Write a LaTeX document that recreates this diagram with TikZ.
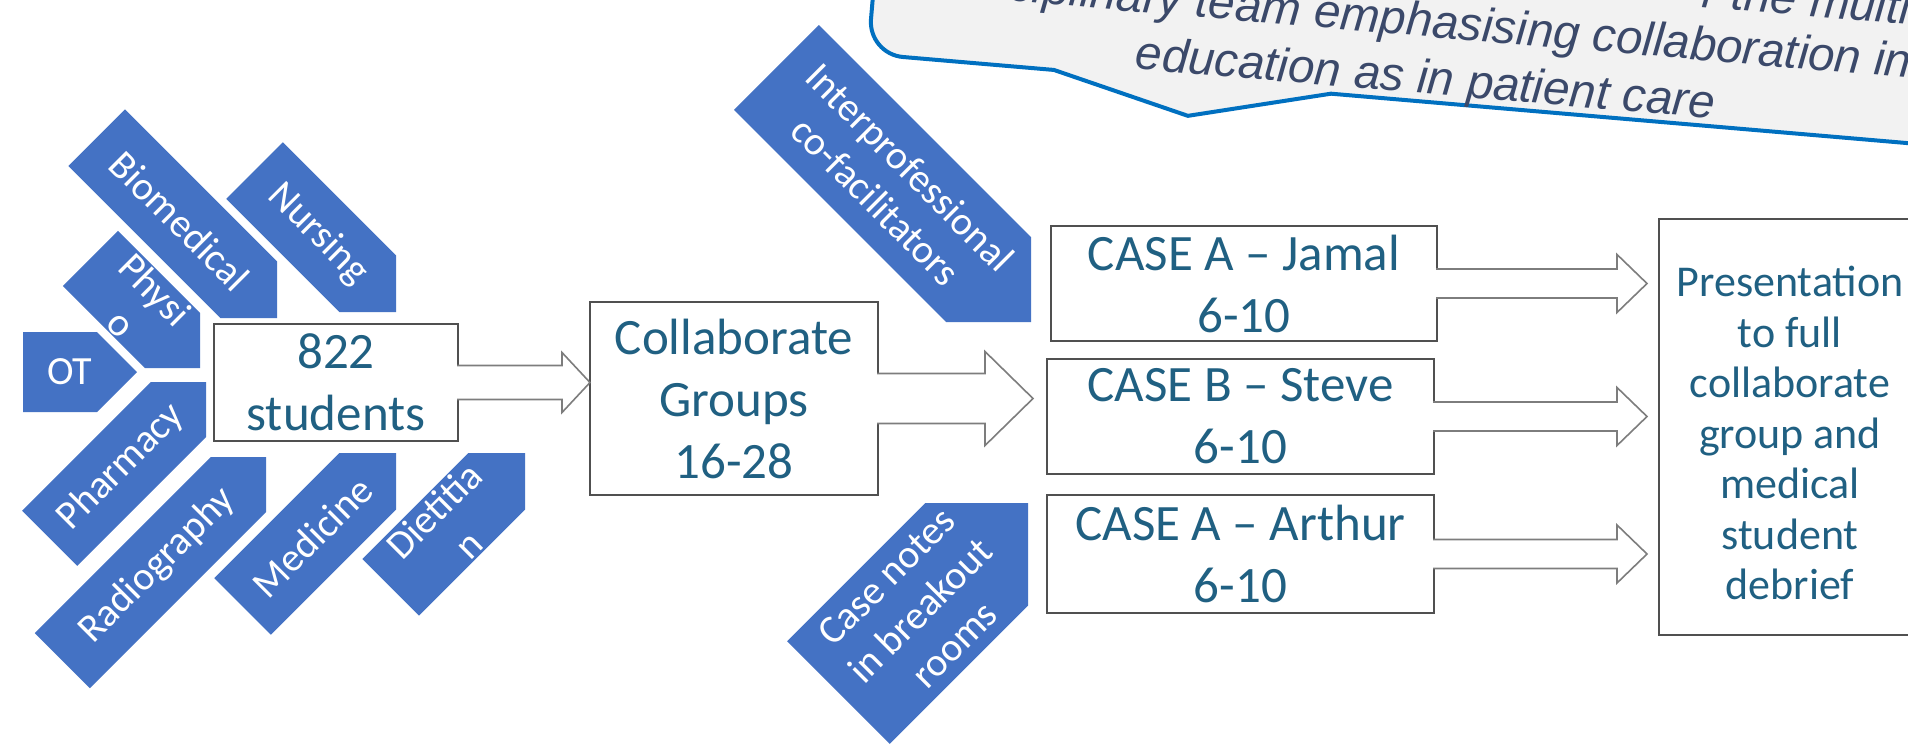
\documentclass[tikz,border=0pt]{standalone}
\usepackage{fontspec}
\usetikzlibrary{calc}
\newfontfamily\carlito{Carlito}
\newfontfamily\arialike{Liberation Sans}
\newcommand\boxfont{\carlito\fontsize{51}{62}\selectfont}
\newcommand\presfont{\carlito\fontsize{44}{50.5}\selectfont}
\newcommand\chevfont{\carlito\fontsize{40}{48}\selectfont}
\newcommand\callfont{\arialike\itshape\fontsize{47.5}{54}\selectfont}
\definecolor{chevblue}{RGB}{68,114,196}
\definecolor{boxtext}{RGB}{32,96,130}
\definecolor{boxline}{RGB}{80,80,80}
\definecolor{arrowline}{RGB}{125,125,125}
\definecolor{callblue}{RGB}{0,112,192}
\definecolor{callfill}{RGB}{242,242,242}
\definecolor{calltext}{RGB}{59,73,106}

% chevron: name, tip, angle, length, width, label
\newcommand\chevron[6]{%
  \begin{scope}[shift={#2}, rotate=#3]
    \fill[chevfill] (0,0) -- (-#5/2,-#5/2) -- (-#4,-#5/2) -- (-#4,#5/2) -- (-#5/2,#5/2) -- cycle;
    \node[chevtext, rotate=#3] (#1) at ({-(#4+#5/4)/2},0) {#6};
  \end{scope}}

% block arrow: start, tip, shaft half height, head half height, head length
\newcommand\blockarrow[5]{%
  \filldraw[barrow] let \p1=(#1), \p2=(#2) in
    (\x1-1pt,\y2+#3pt) -- (\x2-#5pt,\y2+#3pt) -- (\x2-#5pt,\y2+#4pt) -- (\x2,\y2)
    -- (\x2-#5pt,\y2-#4pt) -- (\x2-#5pt,\y2-#3pt) -- (\x1-1pt,\y2-#3pt);}

\begin{document}
\begin{tikzpicture}[x=1pt,y=-1pt,
  box/.style={draw=boxline, line width=2pt, fill=white, inner sep=0pt, outer sep=0pt,
    align=center, text=boxtext, font=\boxfont},
  chevfill/.style={fill=chevblue},
  chevtext/.style={text=white, align=center, inner sep=0pt, font=\chevfont},
  barrow/.style={draw=arrowline, line width=1.6pt, fill=white, line join=miter},
  callout/.style={draw=callblue, fill=callfill, line width=4pt, line join=round},
  calltext/.style={text=calltext, inner sep=0pt, font=\callfont, rotate=-4.9},
]
\useasboundingbox (0,0) rectangle (1908,744);
\fill[white] (0,0) rectangle (1908,744);
\clip (0,0) rectangle (1908,744);

% profession chevrons around the student box
\chevron{biomed}{(277,318)}{-45}{255}{80}{Biomedical}
\chevron{nursing}{(396,312)}{-45}{200}{80}{Nursing}
\chevron{physio}{(200,368)}{-45}{155}{78}{Physi\\o}
\chevron{ot}{(137,372)}{0}{114}{80}{OT}
\chevron{pharm}{(206,382)}{45}{221}{78}{Pharmacy}
\chevron{radio}{(266,457)}{45}{288}{78}{Radiography}
\chevron{medic}{(396,453)}{45}{217}{80}{Medicine}
\chevron{diet}{(525,453)}{45}{190}{80}{Dietitia\\n}

% facilitator and case-note chevrons
\chevron{interpro}{(1031,322)}{-45}{360}{120}{Interprofessional\\co-facilitators}
\chevron{casenotes}{(1028,503)}{45}{268}{145}{Case notes\\in breakout\\rooms}

% boxes
\node[box, minimum width=244pt, minimum height=117pt] (s822) at (336,382.5) {822\\students};
\node[box, minimum width=288pt, minimum height=193pt] (collab) at (734,398.5) {Collaborate\\Groups\\16-28};
\node[box, minimum width=386pt, minimum height=115pt] (caseA) at (1244,283.5) {CASE A – Jamal\\6-10};
\node[box, minimum width=387pt, minimum height=115pt] (caseB) at (1240.5,416.5) {CASE B – Steve\\6-10};
\node[box, minimum width=387pt, minimum height=118pt] (caseC) at (1240.5,554) {CASE A – Arthur\\6-10};
\node[box, minimum width=262pt, minimum height=416pt] (pres) at (1790,427) {};
\node[text=boxtext, font=\presfont, align=center, inner sep=0pt] (prestext) at (1790,433)
  {Presentation\\to full\\collaborate\\group and\\medical\\student\\debrief};

% arrow tips
\coordinate (t1) at (collab.west |- s822.east);
\coordinate (t2) at ($(collab.east -| caseB.west)+(-14,0)$);
\coordinate (t3) at ($(caseA.east -| pres.west)+(-12,0)$);
\coordinate (t4) at ($(caseB.east -| pres.west)+(-12,0)$);
\coordinate (t5) at ($(caseC.east -| pres.west)+(-12,0)$);

\blockarrow{s822.east}{t1}{17}{30}{28}
\blockarrow{collab.east}{t2}{25}{47}{48}
\blockarrow{caseA.east}{t3}{14.5}{29}{30}
\blockarrow{caseB.east}{t4}{14.5}{29}{30}
\blockarrow{caseC.east}{t5}{14.5}{29}{30}

% speech callout at the top
\begin{scope}[shift={(868,54)}, rotate=-4.9]
  \draw[callout] (0,-400) -- (0,-35) .. controls (0,-15.7) and (15.7,0) .. (35,0)
    -- (186.6,0) -- (324,34.3) -- (464.7,0) -- (1300,0) -- (1300,-400) -- cycle;
  \node[calltext, anchor=base] (cl3) at (557.5,-8) {education as in patient care};
  \node[calltext, anchor=base] (cl2) at (557.5,-65) {disciplinary team emphasising collaboration in};
  \node[calltext, anchor=base east] (cl1) at (1035,-118) {r the multi};
\end{scope}
\end{tikzpicture}
\end{document}
